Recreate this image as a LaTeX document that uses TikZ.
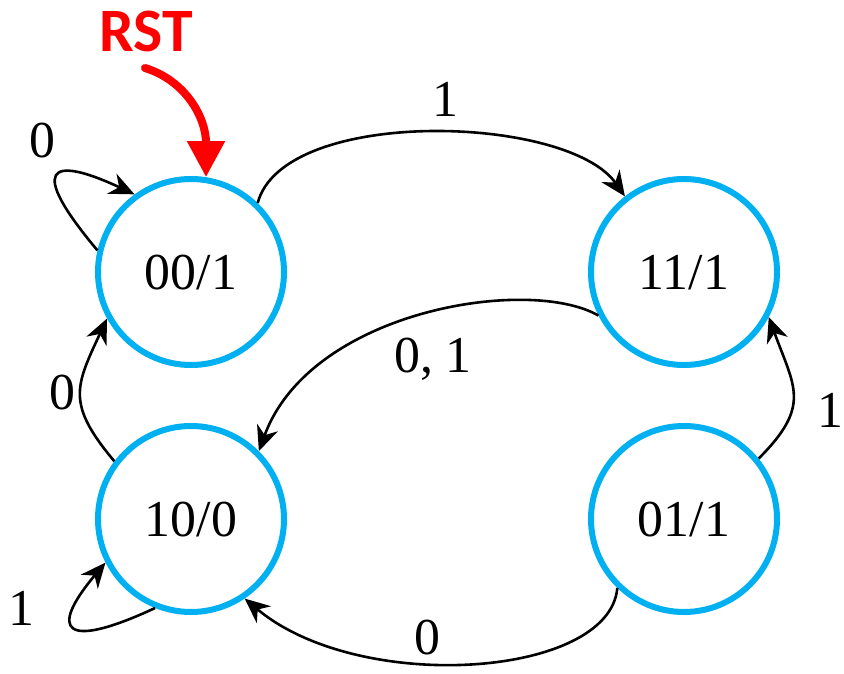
\documentclass[tikz,border=0pt]{standalone}
\usepackage{fontspec}
\setmainfont{Liberation Serif}
\newfontfamily\rstfont{Carlito}
\usetikzlibrary{arrows.meta}
\definecolor{stateblue}{HTML}{00B0F0}
\definecolor{rstred}{HTML}{FF0000}
\begin{document}
\begin{tikzpicture}[x=1bp,y=-1bp,
  state/.style={circle,draw=stateblue,line width=6bp,minimum size=186bp,inner sep=0pt,text depth=0pt,font=\fontsize{52}{60}\selectfont},
  lbl/.style={inner sep=0pt,text depth=0pt,font=\fontsize{52}{60}\selectfont},
  trans/.style={line width=2.6bp,-{Stealth[length=25bp,width=22bp,inset=8bp]}},
]
\useasboundingbox (0,0) rectangle (844,674);
\node[state] (A) at (191,272) {00/1};
\node[state] (B) at (684,272) {11/1};
\node[state] (C) at (191,519) {10/0};
\node[state] (D) at (684,519) {01/1};

\draw[trans] (A.46) .. controls +(75:100bp) and +(125:100bp) .. (B.128);
\draw[trans] (B.207) .. controls +(150:80bp) and +(70:150bp) .. (C.45);
\draw[trans] (C.143) .. controls +(130:75bp) and +(245:75bp) .. (A.209);
\draw[trans] (D.39) .. controls +(45:75bp) and +(290:75bp) .. (B.332);
\draw[trans] (D.226) .. controls +(265:90bp) and +(320:150bp) .. (C.304);
\draw[trans] (A.167) .. controls +(130:108bp) and +(155:95bp) .. (A.126);
\draw[trans] (C.248) .. controls +(205:100bp) and +(230:90bp) .. (C.207);

\node[lbl] (l0a) at (42,140) {0};
\node[lbl] (l1ab) at (445,99) {1};
\node[lbl] (l01) at (433,355) {0, 1};
\node[lbl] (l0ca) at (62,392) {0};
\node[lbl] (l1db) at (830,410) {1};
\node[lbl] (l1c) at (21,608) {1};
\node[lbl] (l0dc) at (427,637) {0};

\node[inner sep=0pt,text=rstred,font={\fontsize{62}{70}\selectfont\rstfont\bfseries}] (R) at (146,31) {RST};
\coordinate (rs) at (145,68);
\draw[line width=8bp,rstred,line cap=round,-{Triangle[length=36bp,width=36bp]}] (rs) .. controls +(-17:42bp) and +(90:60bp) .. (A.81);
\end{tikzpicture}
\end{document}
